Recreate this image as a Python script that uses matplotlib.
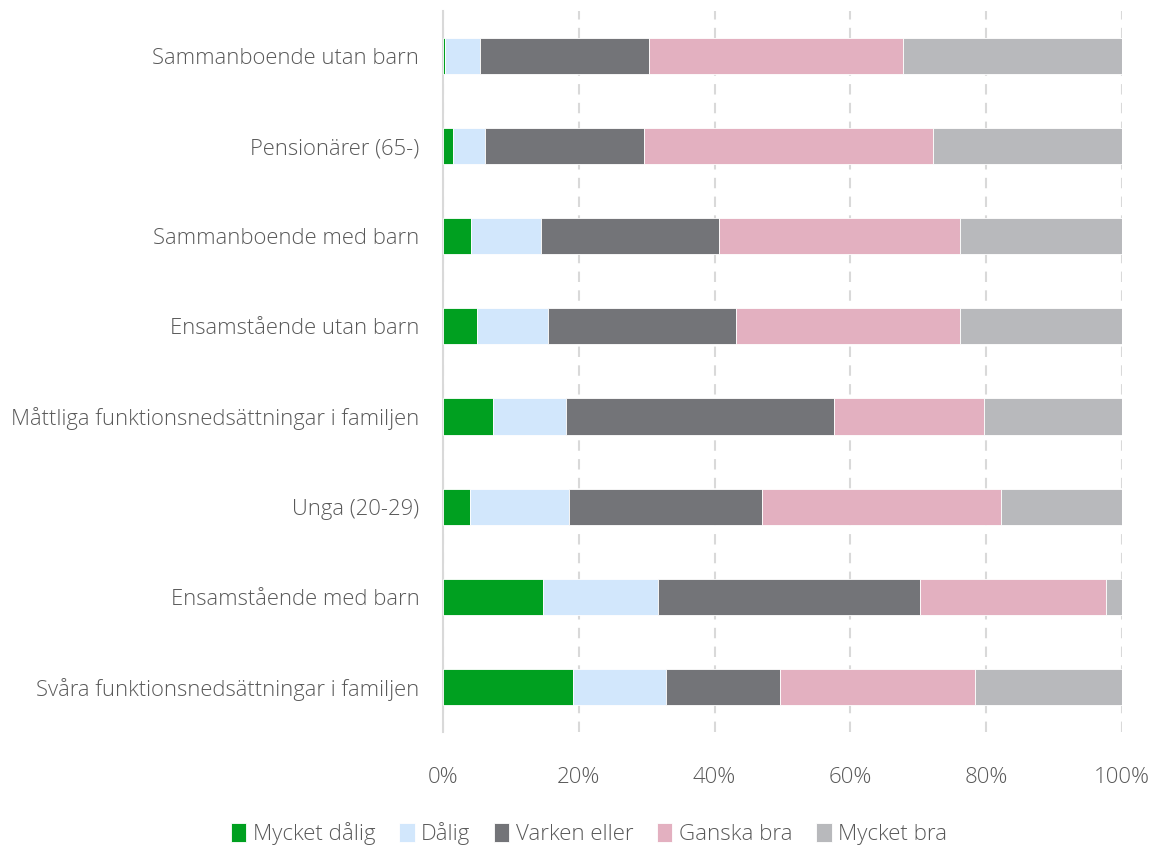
import numpy as np
import matplotlib.pyplot as plt
from matplotlib.ticker import PercentFormatter

categories = [
    "Sammanboende utan barn",
    "Pensionärer (65-)",
    "Sammanboende med barn",
    "Ensamstående utan barn",
    "Måttliga funktionsnedsättningar i familjen",
    "Unga (20-29)",
    "Ensamstående med barn",
    "Svåra funktionsnedsättningar i familjen",
]
series_names = ["Mycket dålig", "Dålig", "Varken eller", "Ganska bra", "Mycket bra"]

mycket_dalig = [0.3, 1.5, 4.1, 5.0, 7.4, 4.0, 14.7, 19.2]
dalig = [5.15, 4.7, 10.3, 10.45, 10.65, 14.5, 16.9, 13.7]
varken_eller = [24.85, 23.4, 26.2, 27.65, 39.6, 28.5, 38.6, 16.7]
ganska_bra = [37.4, 42.6, 35.6, 33.0, 22.0, 35.2, 27.5, 28.8]
mycket_bra = [32.3, 27.8, 23.8, 23.9, 20.3, 17.8, 2.3, 21.6]

colors = ["#00A020", "#D2E7FC", "#737478", "#E3B0C0", "#B8B9BC"]
text_col = "#595959"
font = "Open Sans"

fig = plt.figure(figsize=(11.55, 8.5), dpi=100)
ax = fig.add_axes([0.3835, 0.139, 0.588, 0.848])

y = np.arange(len(categories))
left = np.zeros(len(categories))
for name, vals, col in zip(series_names,
                           [mycket_dalig, dalig, varken_eller, ganska_bra, mycket_bra],
                           colors):
    vals = np.array(vals)
    ax.barh(y, vals, left=left, height=0.4, color=col, label=name,
            edgecolor="white", linewidth=0.6, zorder=3)
    left += vals

ax.set_xlim(0, 100)
ax.set_ylim(len(categories) - 0.5, -0.5)
ax.set_yticks(y)
ax.set_yticklabels(categories, fontsize=15.8, color=text_col, family=font, fontweight="light")
ax.set_xticks(np.arange(0, 101, 20))
ax.xaxis.set_major_formatter(PercentFormatter(decimals=0))
for lab in ax.get_xticklabels():
    lab.set_fontsize(16)
    lab.set_color(text_col)
    lab.set_family(font)
    lab.set_fontweight("light")
ax.tick_params(axis="x", length=0, pad=25)
ax.tick_params(axis="y", length=0, pad=17)

ax.grid(axis="x", color="#D9D9D9", linestyle=(0, (5, 4)), linewidth=1.5, zorder=0)
for s in ["top", "right", "bottom"]:
    ax.spines[s].set_visible(False)
ax.spines["left"].set_color("#D9D9D9")
ax.spines["left"].set_linewidth(1.5)

leg = fig.legend(loc="lower center", bbox_to_anchor=(0.51, -0.018), ncol=5, frameon=False,
                 handlelength=0.7, handleheight=0.9, handletextpad=0.3, columnspacing=1.05,
                 prop={"family": font, "size": 16, "weight": "light"})
for t in leg.get_texts():
    t.set_color(text_col)

fig.savefig("out.png", dpi=100)
